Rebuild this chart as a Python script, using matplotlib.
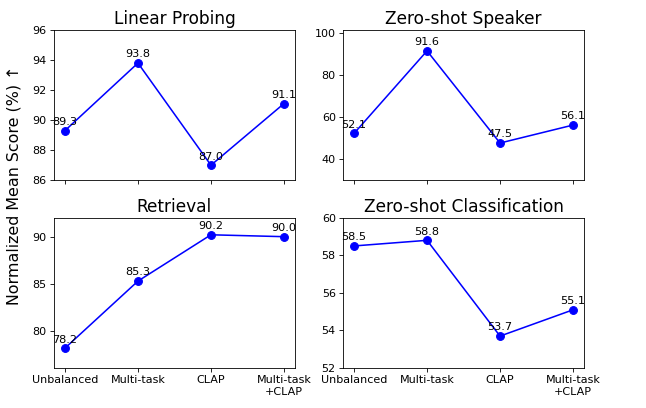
import matplotlib
matplotlib.use("Agg")
import matplotlib.pyplot as plt

categories = ["Unbalanced", "Multi-task", "CLAP", "Multi-task\n+CLAP"]
titles = ["Linear Probing", "Zero-shot Speaker", "Retrieval", "Zero-shot Classification"]
linear_probing = [89.3, 93.8, 87.0, 91.1]
zs_speaker = [52.1, 91.6, 47.5, 56.1]
retrieval = [78.2, 85.3, 90.2, 90.0]
zs_classification = [58.5, 58.8, 53.7, 55.1]
series = [linear_probing, zs_speaker, retrieval, zs_classification]
ylims = [(86, 96), (29.7, 101.6), (76.1, 92.0), (52, 60)]
yticks = [[86, 88, 90, 92, 94, 96], [40, 60, 80, 100], [80, 85, 90], [52, 54, 56, 58, 60]]

fig, axes = plt.subplots(2, 2, figsize=(646 / 75, 408 / 75), dpi=75)
fig.subplots_adjust(left=0.0836, right=0.904, top=0.9265, bottom=0.098, wspace=0.2, hspace=0.25)

x = list(range(len(categories)))
for i, ax in enumerate(axes.flat):
    vals = series[i]
    ax.plot(x, vals, marker="o", color="blue", markersize=7.5, linewidth=1.5)
    for xi, v in zip(x, vals):
        ax.annotate(f"{v:.1f}", (xi, v), xytext=(0, 3.5), textcoords="offset points",
                    ha="center", va="bottom", fontsize=10.8)
    ax.set_title(titles[i], fontsize=16.3)
    ax.set_ylim(*ylims[i])
    ax.set_yticks(yticks[i])
    ax.set_xticks(x)
    ax.tick_params(labelsize=10.7)
    if i >= 2:
        ax.set_xticklabels(categories)
    else:
        ax.set_xticklabels([])

fig.text(0.022, 0.547, "Normalized Mean Score (%) ↑", rotation=90, va="center", ha="center", fontsize=15.2)
fig.savefig("out.png", dpi=75)
